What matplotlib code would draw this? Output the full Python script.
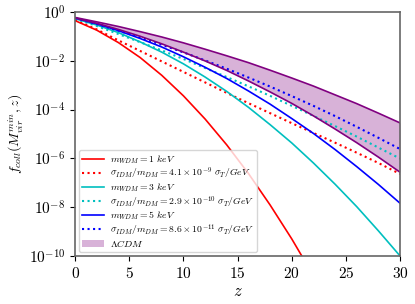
import numpy as np
from matplotlib import pyplot as plt

plt.rcParams['font.family'] = 'serif'
plt.rcParams['font.serif'] = ['cmr10', 'DejaVu Serif']
plt.rcParams['mathtext.fontset'] = 'cm'
plt.rcParams['axes.formatter.use_mathtext'] = True
plt.rcParams['axes.unicode_minus'] = False

# redshift samples and log10 of the collapsed fraction
z = [0, 2, 4, 6, 8, 10, 12, 14, 16, 18, 20, 22, 24, 26, 28, 30]

wdm1 = [-0.36, -0.75, -1.26, -1.87, -2.60, -3.44, -4.39, -5.45, -6.62, -7.91, -9.30, -10.81, -12.4, -14.1, -15.9, -17.8]
idm1 = [-0.33, -0.72, -1.17, -1.60, -2.03, -2.46, -2.89, -3.32, -3.74, -4.15, -4.56, -4.96, -5.36, -5.77, -6.19, -6.64]
wdm3 = [-0.28, -0.54, -0.85, -1.23, -1.65, -2.13, -2.67, -3.26, -3.91, -4.62, -5.37, -6.19, -7.06, -7.98, -8.97, -10.0]
idm3 = [-0.27, -0.58, -0.91, -1.24, -1.58, -1.93, -2.30, -2.67, -3.05, -3.44, -3.85, -4.26, -4.68, -5.11, -5.56, -6.01]
wdm5 = [-0.25, -0.49, -0.77, -1.09, -1.44, -1.84, -2.27, -2.73, -3.24, -3.78, -4.37, -4.98, -5.64, -6.34, -7.07, -7.84]
idm5 = [-0.25, -0.50, -0.77, -1.05, -1.35, -1.66, -1.99, -2.33, -2.69, -3.06, -3.45, -3.85, -4.27, -4.71, -5.16, -5.62]
lcdm_hi = [-0.23, -0.41, -0.60, -0.81, -1.03, -1.27, -1.53, -1.80, -2.08, -2.39, -2.71, -3.04, -3.40, -3.76, -4.15, -4.55]
lcdm_lo = [-0.25, -0.47, -0.72, -1.00, -1.31, -1.65, -2.01, -2.40, -2.83, -3.28, -3.75, -4.26, -4.80, -5.36, -5.95, -6.57]

labels = [r'$m_{WDM} = 1\ keV$',
          r'$\sigma_{IDM}/m_{DM} = 4.1\times10^{-9}\ \sigma_T/GeV$',
          r'$m_{WDM} = 3\ keV$',
          r'$\sigma_{IDM}/m_{DM} = 2.9\times10^{-10}\ \sigma_T/GeV$',
          r'$m_{WDM} = 5\ keV$',
          r'$\sigma_{IDM}/m_{DM} = 8.6\times10^{-11}\ \sigma_T/GeV$',
          r'$\Lambda CDM$']

z = np.array(z)
fig = plt.figure(figsize=(4.15, 3.04), dpi=100)
ax = fig.add_axes([0.181, 0.158, 0.783, 0.803])

ax.plot(z, 10**np.array(wdm1), color='r', lw=1.2, label=labels[0])
ax.plot(z, 10**np.array(idm1), color='r', lw=1.5, ls=':', label=labels[1])
ax.plot(z, 10**np.array(wdm3), color='c', lw=1.2, label=labels[2])
ax.plot(z, 10**np.array(idm3), color='c', lw=1.5, ls=':', label=labels[3])
ax.plot(z, 10**np.array(wdm5), color='b', lw=1.2, label=labels[4])
ax.plot(z, 10**np.array(idm5), color='b', lw=1.5, ls=':', label=labels[5])
ax.plot(z, 10**np.array(lcdm_hi), color='purple', lw=1.2)
ax.plot(z, 10**np.array(lcdm_lo), color='purple', lw=1.2)
ax.fill_between(z, 10**np.array(lcdm_lo), 10**np.array(lcdm_hi), color='purple', alpha=0.3, lw=0, label=labels[6])

ax.set_yscale('log')
ax.set_xlim(0, 30)
ax.set_ylim(1e-10, 1)
ax.set_yticks([1e-10, 1e-8, 1e-6, 1e-4, 1e-2, 1])
ax.set_xticks([0, 5, 10, 15, 20, 25, 30])
ax.tick_params(labelsize=11)
for s in ax.spines.values():
    s.set_color('0.4')
    s.set_linewidth(1.2)

ax.set_xlabel(r'$z$', fontsize=12, labelpad=2)
ax.set_ylabel(r'$f_{coll}(M_{vir}^{min}, z)$', fontsize=10, labelpad=3)
ax.legend(loc='lower left', fontsize=7, handlelength=2.2, handletextpad=0.6,
          labelspacing=0.0, borderpad=0.3, borderaxespad=0.45)

plt.savefig('out.png')
